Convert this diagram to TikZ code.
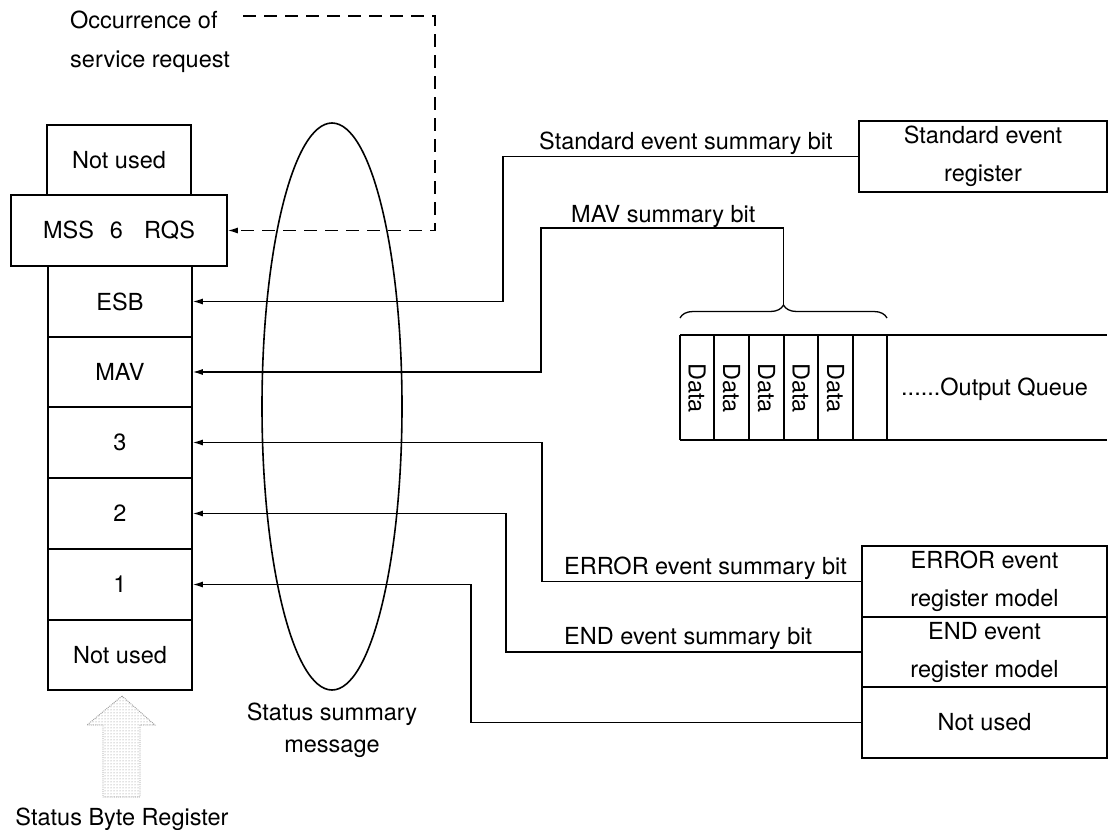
\documentclass[tikz,border=0pt]{standalone}
\usepackage{fontspec}
\setmainfont{TeX Gyre Heros}
\usetikzlibrary{arrows.meta,patterns,decorations.pathreplacing}
\begin{document}
\begin{tikzpicture}[x=1pt,y=-1pt,
  every node/.style={font=\fontsize{23.5}{38}\selectfont, inner sep=0pt},
  reg/.style={draw, line width=1.6pt, minimum width=144pt, minimum height=71pt, align=center},
  rbox/.style={draw, line width=1.6pt, minimum width=245pt, minimum height=71pt, align=center},
  conn/.style={line width=1.3pt},
  arr/.style={conn, -{Latex[length=10pt,width=6pt]}},
  lbl/.style={anchor=base west},
  datatxt/.style={rotate=-90}]
\useasboundingbox (0,0) rectangle (1112,830);

% status byte register stack
\node[reg, minimum height=70pt] (nu7) at (119,160) {Not used};
\node[reg, minimum width=216pt] (mss) at (119,230.5) {MSS\hspace{16pt}6\hspace{21pt}RQS};
\node[reg] (esb) at (120,301.5) {ESB};
\node[reg] (mav) at (120,372) {MAV};
\node[reg] (b3) at (120,442.5) {3};
\node[reg] (b2) at (120,513.5) {2};
\node[reg] (b1) at (120,584.5) {1};
\node[reg, minimum height=70pt] (nu0) at (120,655) {Not used};

% right-hand registers
\node[rbox, minimum width=248pt] (stdreg) at (983,156.5) {Standard event\\register};
\node[rbox] (errreg) at (984.5,581.5) {ERROR event\\register model};
\node[rbox, minimum height=70pt] (endreg) at (984.5,652) {END event\\register model};
\node[rbox] (nureg) at (984.5,722.5) {Not used};

% output queue
\draw[conn] (680,335) -- (1107,335);
\draw[conn] (680,440) -- (1107,440);
\foreach \x in {680,714,749,784,818,853,887} \draw[conn] (\x,335) -- (\x,440);
\node[datatxt] (d1) at (697,388) {Data};
\node[datatxt] (d2) at (731.5,388) {Data};
\node[datatxt] (d3) at (766.5,388) {Data};
\node[datatxt] (d4) at (801,388) {Data};
\node[datatxt] (d5) at (835.5,388) {Data};
\node[lbl] (oq) at (901,395) {......Output Queue};

% brace
\draw[conn, decorate, decoration={brace, amplitude=13pt}] (680,318) -- (887,318);
\coordinate (bt) at (783.5,305);

% ellipse
\draw[line width=1.6pt] (332,406.5) ellipse [x radius=70, y radius=283.5];

% connectors
\coordinate (c1) at (503,250);
\draw[arr] (stdreg.west) -| (c1) |- (esb.east);
\coordinate (c2) at (541,228);
\draw[arr] (bt) |- (c2) |- (mav.east);
\coordinate (c3) at (542,500);
\draw[arr] (errreg.west) -| (c3) |- (b3.east);
\coordinate (c4) at (506,600);
\draw[arr] (endreg.west) -| (c4) |- (b2.east);
\coordinate (c5) at (471,650);
\draw[arr] (nureg.west) -| (c5) |- (b1.east);

% dashed service request
\coordinate (ds) at (243,16);
\coordinate (dc) at (435,16);
\draw[arr, dash pattern=on 13pt off 8pt] (ds) -- (dc) |- (mss.east);

% labels
\node[lbl] (occ) at (70,28) {Occurrence of};
\node[lbl] (srv) at (70,67) {service request};
\node[lbl] (lstd) at (539,149) {Standard event summary bit};
\node[lbl] (lmav) at (571,222) {MAV summary bit};
\node[lbl] (lerr) at (564,574) {ERROR event summary bit};
\node[lbl] (lend) at (564,644) {END event summary bit};
\node[anchor=base] (ssm1) at (332,720) {Status summary};
\node[anchor=base] (ssm2) at (332,752) {message};
\node[anchor=base] (sbr) at (122,825) {Status Byte Register};

% hatched block arrow
\draw[densely dotted, gray!80, line width=0.9pt, pattern=dots, pattern color=gray]
  (122,696) -- (155,725) -- (140,725) -- (140,797) -- (103,797) -- (103,725) -- (87,725) -- cycle;
\end{tikzpicture}
\end{document}
